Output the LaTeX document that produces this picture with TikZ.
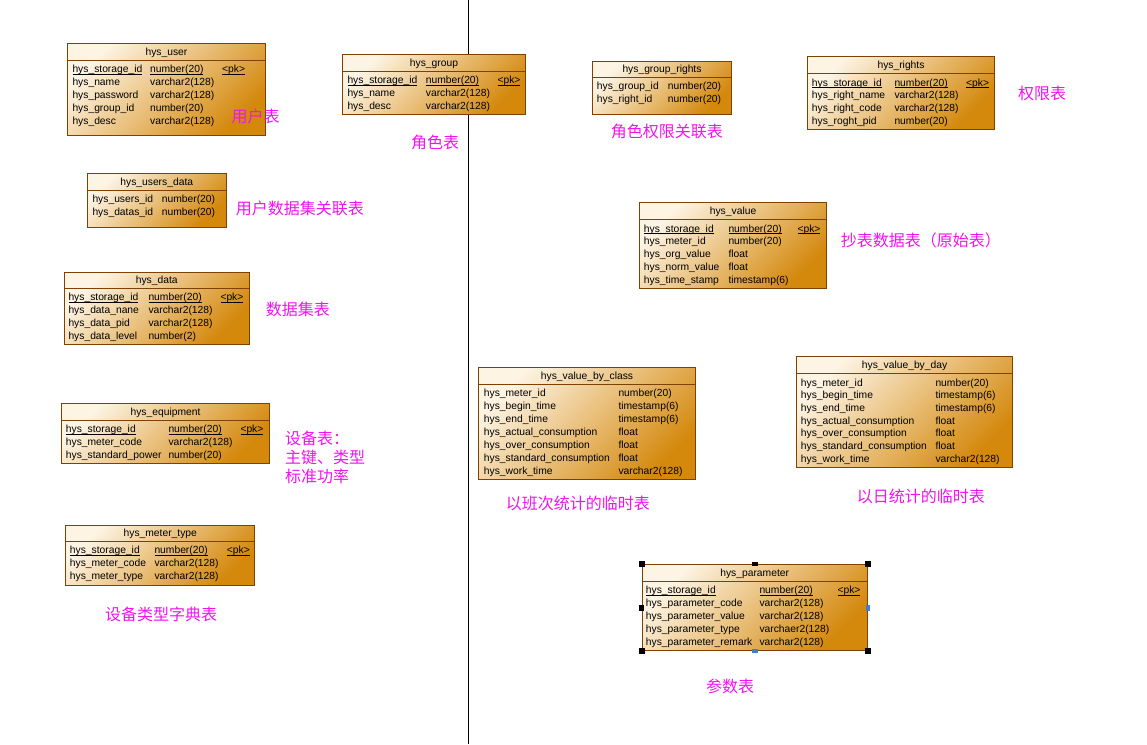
\documentclass[tikz,border=0pt]{standalone}
\usepackage{fontspec}
\setmainfont{Liberation Sans}
\newfontfamily\cjk{Noto Sans CJK SC}
\usepackage{tikz}
\usepackage{xcolor}
\definecolor{tblline}{RGB}{128,64,0}
\definecolor{tbllight}{RGB}{253,244,228}
\definecolor{tbldark}{RGB}{212,136,12}
\definecolor{notepink}{RGB}{240,20,240}
\definecolor{hdlblue}{RGB}{64,128,200}

\tikzset{
  tbl/.style={draw=tblline, line width=1pt, top color=tbllight, bottom color=tbldark,
    shading angle=45, anchor=north west, inner sep=0pt},
  hsep/.style={draw=tblline, line width=1pt},
  ttl/.style={anchor=center, inner sep=0pt, text height=7.4pt, text depth=0pt,
    font=\fontsize{10.3}{12}\selectfont},
  fld/.style={anchor=west, inner sep=0pt, text height=7.4pt, text depth=0pt,
    font=\fontsize{10.3}{12}\selectfont},
  note/.style={anchor=west, inner sep=0pt, text height=12pt, text depth=0pt,
    text=notepink, font=\cjk\fontsize{16}{19}\selectfont},
  hdl/.style={fill=black}
}

\begin{document}
\begin{tikzpicture}[x=1pt,y=-1pt]
\path[fill=white,use as bounding box] (0,0) rectangle (1147,744);

% divider
\coordinate (divtop) at (468,0);
\coordinate (divbot) at (468,744);
\draw [black, line width=1pt] (divtop) -- (divbot);

% hys_user
\node[tbl, minimum width=198pt, minimum height=92pt] (user) at (67,43) {};
\draw[hsep] ([yshift=-17pt]user.north west) -- ([yshift=-17pt]user.north east);
\node[ttl] (user-h) at ([yshift=-8.7pt]user.north) {hys\_user};
\path (72.3,69) node[fld] (user-n1) {\underline{\smash{hys\_storage\_id}}} (150,69) node[fld] (user-t1) {\underline{\smash{number(20)}}} (222,69) node[fld] (user-pk) {\underline{\smash{<pk>}}};
\path (72.3,82) node[fld] (user-n2) {hys\_name} (150,82) node[fld] (user-t2) {varchar2(128)};
\path (72.3,95) node[fld] (user-n3) {hys\_password} (150,95) node[fld] (user-t3) {varchar2(128)};
\path (72.3,108) node[fld] (user-n4) {hys\_group\_id} (150,108) node[fld] (user-t4) {number(20)};
\path (72.3,121) node[fld] (user-n5) {hys\_desc} (150,121) node[fld] (user-t5) {varchar2(128)};
\node[note] (user-note) at (231.5,116.7) {用户表};

% hys_group
\node[tbl, minimum width=183pt, minimum height=60pt] (group) at (342,54) {};
\draw[hsep] ([yshift=-17.5pt]group.north west) -- ([yshift=-17.5pt]group.north east);
\node[ttl] (group-h) at ([yshift=-8.7pt]group.north) {hys\_group};
\path (347.3,80) node[fld] (group-n1) {\underline{\smash{hys\_storage\_id}}} (425.7,80) node[fld] (group-t1) {\underline{\smash{number(20)}}} (497.3,80) node[fld] (group-pk) {\underline{\smash{<pk>}}};
\path (347.3,93) node[fld] (group-n2) {hys\_name} (425.7,93) node[fld] (group-t2) {varchar2(128)};
\path (347.3,106) node[fld] (group-n3) {hys\_desc} (425.7,106) node[fld] (group-t3) {varchar2(128)};
\node[note] (group-note) at (411,142.7) {角色表};

% hys_group_rights
\node[tbl, minimum width=139pt, minimum height=53.5pt] (grights) at (592,60.5) {};
\draw[hsep] ([yshift=-16.5pt]grights.north west) -- ([yshift=-16.5pt]grights.north east);
\node[ttl] (grights-h) at ([yshift=-8.3pt]grights.north) {hys\_group\_rights};
\path (596.7,85.3) node[fld] (grights-n1) {hys\_group\_id} (667.7,85.3) node[fld] (grights-t1) {number(20)};
\path (596.7,99) node[fld] (grights-n2) {hys\_right\_id} (667.7,99) node[fld] (grights-t2) {number(20)};
\node[note] (grights-note) at (610.7,131.7) {角色权限关联表};

% hys_rights
\node[tbl, minimum width=187pt, minimum height=72.5pt] (rights) at (807,56) {};
\draw[hsep] ([yshift=-17pt]rights.north west) -- ([yshift=-17pt]rights.north east);
\node[ttl] (rights-h) at ([yshift=-8.7pt]rights.north) {hys\_rights};
\path (811.7,82.3) node[fld] (rights-n1) {\underline{\smash{hys\_storage\_id}}} (894.3,82.3) node[fld] (rights-t1) {\underline{\smash{number(20)}}} (966,82.3) node[fld] (rights-pk) {\underline{\smash{<pk>}}};
\path (811.7,95) node[fld] (rights-n2) {hys\_right\_name} (894.3,95) node[fld] (rights-t2) {varchar2(128)};
\path (811.7,108) node[fld] (rights-n3) {hys\_right\_code} (894.3,108) node[fld] (rights-t3) {varchar2(128)};
\path (811.7,120.7) node[fld] (rights-n4) {hys\_roght\_pid} (894.3,120.7) node[fld] (rights-t4) {number(20)};
\node[note] (rights-note) at (1018,93) {权限表};

% hys_users_data
\node[tbl, minimum width=138.5pt, minimum height=54pt] (udata) at (87,173) {};
\draw[hsep] ([yshift=-17pt]udata.north west) -- ([yshift=-17pt]udata.north east);
\node[ttl] (udata-h) at ([yshift=-8.7pt]udata.north) {hys\_users\_data};
\path (92.3,199) node[fld] (udata-n1) {hys\_users\_id} (161.7,199) node[fld] (udata-t1) {number(20)};
\path (92.3,212) node[fld] (udata-n2) {hys\_datas\_id} (161.7,212) node[fld] (udata-t2) {number(20)};
\node[note] (udata-note) at (235.7,208.3) {用户数据集关联表};

% hys_data
\node[tbl, minimum width=184.5pt, minimum height=72pt] (data) at (64,271.5) {};
\draw[hsep] ([yshift=-17pt]data.north west) -- ([yshift=-17pt]data.north east);
\node[ttl] (data-h) at ([yshift=-8.7pt]data.north) {hys\_data};
\path (68.3,297) node[fld] (data-n1) {\underline{\smash{hys\_storage\_id}}} (148.3,297) node[fld] (data-t1) {\underline{\smash{number(20)}}} (220.3,297) node[fld] (data-pk) {\underline{\smash{<pk>}}};
\path (68.3,310) node[fld] (data-n2) {hys\_data\_nane} (148.3,310) node[fld] (data-t2) {varchar2(128)};
\path (68.3,322.7) node[fld] (data-n3) {hys\_data\_pid} (148.3,322.7) node[fld] (data-t3) {varchar2(128)};
\path (68.3,335.7) node[fld] (data-n4) {hys\_data\_level} (148.3,335.7) node[fld] (data-t4) {number(2)};
\node[note] (data-note) at (265.7,309.3) {数据集表};

% hys_equipment
\node[tbl, minimum width=208pt, minimum height=60pt] (equip) at (61,403.3) {};
\draw[hsep] ([yshift=-17.3pt]equip.north west) -- ([yshift=-17.3pt]equip.north east);
\node[ttl] (equip-h) at ([yshift=-8.7pt]equip.north) {hys\_equipment};
\path (65.7,429) node[fld] (equip-n1) {\underline{\smash{hys\_storage\_id}}} (168.3,429) node[fld] (equip-t1) {\underline{\smash{number(20)}}} (240.3,429) node[fld] (equip-pk) {\underline{\smash{<pk>}}};
\path (65.7,442) node[fld] (equip-n2) {hys\_meter\_code} (168.3,442) node[fld] (equip-t2) {varchar2(128)};
\path (65.7,454.7) node[fld] (equip-n3) {hys\_standard\_power} (168.3,454.7) node[fld] (equip-t3) {number(20)};
\node[note] (equip-note1) at (285,438.3) {设备表：};
\node[note] (equip-note2) at (285,457.3) {主键、类型};
\node[note] (equip-note3) at (285,476.7) {标准功率};

% hys_meter_type
\node[tbl, minimum width=189pt, minimum height=60pt] (mtype) at (65.3,524.5) {};
\draw[hsep] ([yshift=-16.8pt]mtype.north west) -- ([yshift=-16.8pt]mtype.north east);
\node[ttl] (mtype-h) at ([yshift=-8.5pt]mtype.north) {hys\_meter\_type};
\path (69.7,550) node[fld] (mtype-n1) {\underline{\smash{hys\_storage\_id}}} (154.3,550) node[fld] (mtype-t1) {\underline{\smash{number(20)}}} (226.7,550) node[fld] (mtype-pk) {\underline{\smash{<pk>}}};
\path (69.7,563) node[fld] (mtype-n2) {hys\_meter\_code} (154.3,563) node[fld] (mtype-t2) {varchar2(128)};
\path (69.7,576) node[fld] (mtype-n3) {hys\_meter\_type} (154.3,576) node[fld] (mtype-t3) {varchar2(128)};
\node[note] (mtype-note) at (105,614.3) {设备类型字典表};

% hys_value
\node[tbl, minimum width=186.5pt, minimum height=86pt] (value) at (639.3,202.3) {};
\draw[hsep] ([yshift=-16.7pt]value.north west) -- ([yshift=-16.7pt]value.north east);
\node[ttl] (value-h) at ([yshift=-8.5pt]value.north) {hys\_value};
\path (643.7,228.3) node[fld] (value-n1) {\underline{\smash{hys\_storage\_id}}} (728.3,228.3) node[fld] (value-t1) {\underline{\smash{number(20)}}} (797.3,228.3) node[fld] (value-pk) {\underline{\smash{<pk>}}};
\path (643.7,241) node[fld] (value-n2) {hys\_meter\_id} (728.3,241) node[fld] (value-t2) {number(20)};
\path (643.7,254) node[fld] (value-n3) {hys\_org\_value} (728.3,254) node[fld] (value-t3) {float};
\path (643.7,267) node[fld] (value-n4) {hys\_norm\_value} (728.3,267) node[fld] (value-t4) {float};
\path (643.7,280) node[fld] (value-n5) {hys\_time\_stamp} (728.3,280) node[fld] (value-t5) {timestamp(6)};
\node[note] (value-note) at (840.7,240) {抄表数据表（原始表）};

% hys_value_by_class
\node[tbl, minimum width=216.5pt, minimum height=112pt] (vclass) at (478.3,367.3) {};
\draw[hsep] ([yshift=-16.7pt]vclass.north west) -- ([yshift=-16.7pt]vclass.north east);
\node[ttl] (vclass-h) at ([yshift=-8.5pt]vclass.north) {hys\_value\_by\_class};
\path (483.7,392.7) node[fld] (vclass-n1) {hys\_meter\_id} (618.3,392.7) node[fld] (vclass-t1) {number(20)};
\path (483.7,405.7) node[fld] (vclass-n2) {hys\_begin\_time} (618.3,405.7) node[fld] (vclass-t2) {timestamp(6)};
\path (483.7,418.7) node[fld] (vclass-n3) {hys\_end\_time} (618.3,418.7) node[fld] (vclass-t3) {timestamp(6)};
\path (483.7,431.7) node[fld] (vclass-n4) {hys\_actual\_consumption} (618.3,431.7) node[fld] (vclass-t4) {float};
\path (483.7,444.7) node[fld] (vclass-n5) {hys\_over\_consumption} (618.3,444.7) node[fld] (vclass-t5) {float};
\path (483.7,458) node[fld] (vclass-n6) {hys\_standard\_consumption} (618.3,458) node[fld] (vclass-t6) {float};
\path (483.7,470.7) node[fld] (vclass-n7) {hys\_work\_time} (618.3,470.7) node[fld] (vclass-t7) {varchar2(128)};
\node[note] (vclass-note) at (505.7,503.3) {以班次统计的临时表};

% hys_value_by_day
\node[tbl, minimum width=215.5pt, minimum height=111pt] (vday) at (796.3,356) {};
\draw[hsep] ([yshift=-17.3pt]vday.north west) -- ([yshift=-17.3pt]vday.north east);
\node[ttl] (vday-h) at ([yshift=-8.7pt]vday.north) {hys\_value\_by\_day};
\path (800.7,382.3) node[fld] (vday-n1) {hys\_meter\_id} (935.3,382.3) node[fld] (vday-t1) {number(20)};
\path (800.7,395) node[fld] (vday-n2) {hys\_begin\_time} (935.3,395) node[fld] (vday-t2) {timestamp(6)};
\path (800.7,408) node[fld] (vday-n3) {hys\_end\_time} (935.3,408) node[fld] (vday-t3) {timestamp(6)};
\path (800.7,421) node[fld] (vday-n4) {hys\_actual\_consumption} (935.3,421) node[fld] (vday-t4) {float};
\path (800.7,432.7) node[fld] (vday-n5) {hys\_over\_consumption} (935.3,432.7) node[fld] (vday-t5) {float};
\path (800.7,446) node[fld] (vday-n6) {hys\_standard\_consumption} (935.3,446) node[fld] (vday-t6) {float};
\path (800.7,458.7) node[fld] (vday-n7) {hys\_work\_time} (935.3,458.7) node[fld] (vday-t7) {varchar2(128)};
\node[note] (vday-note) at (856.7,496.7) {以日统计的临时表};

% hys_parameter (selected)
\node[tbl, minimum width=225pt, minimum height=86pt] (param) at (641.7,564.3) {};
\draw[hsep] ([yshift=-16.7pt]param.north west) -- ([yshift=-16.7pt]param.north east);
\node[ttl] (param-h) at ([yshift=-8.5pt]param.north) {hys\_parameter};
\path (645.7,589.7) node[fld] (param-n1) {\underline{\smash{hys\_storage\_id}}} (759.3,589.7) node[fld] (param-t1) {\underline{\smash{number(20)}}} (837.3,589.7) node[fld] (param-pk) {\underline{\smash{<pk>}}};
\path (645.7,602.7) node[fld] (param-n2) {hys\_parameter\_code} (759.3,602.7) node[fld] (param-t2) {varchar2(128)};
\path (645.7,615.3) node[fld] (param-n3) {hys\_parameter\_value} (759.3,615.3) node[fld] (param-t3) {varchar2(128)};
\path (645.7,628.3) node[fld] (param-n4) {hys\_parameter\_type} (759.3,628.3) node[fld] (param-t4) {varchaer2(128)};
\path (645.7,641.7) node[fld] (param-n5) {hys\_parameter\_remark} (759.3,641.7) node[fld] (param-t5) {varchar2(128)};
\fill[hdl] (param.north west) ++(-3,-3) rectangle ++(6,6);
\fill[hdl] (param.north east) ++(-3,-3) rectangle ++(6,6);
\fill[hdl] (param.south west) ++(-3,-3) rectangle ++(6,6);
\fill[hdl] (param.south east) ++(-3,-3) rectangle ++(6,6);
\fill[hdl] (param.north) ++(-3,-2) rectangle ++(6,4);
\fill[hdl] (param.west) ++(-3,-3) rectangle ++(5,6);
\fill[hdlblue] (param.east) ++(-2,-3) rectangle ++(4,6);
\fill[hdlblue] (param.south) ++(-3,-2) rectangle ++(6,4);
\node[note] (param-note) at (706,686.7) {参数表};
\end{tikzpicture}
\end{document}
